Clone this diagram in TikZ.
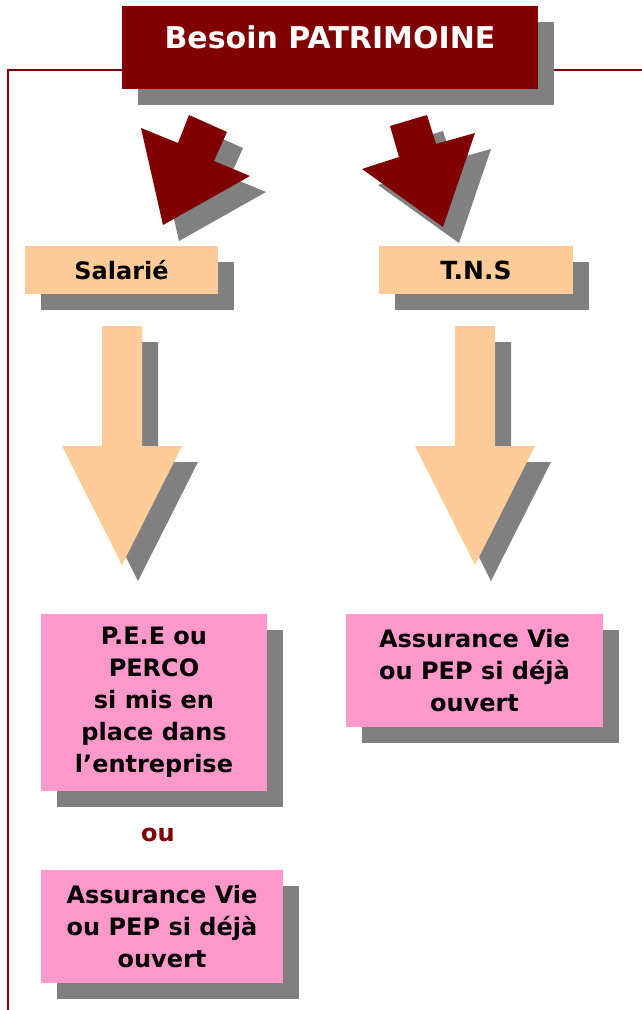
\documentclass[tikz,border=0pt]{standalone}
\usepackage{fontspec}
\setmainfont{DejaVu Sans}
\usetikzlibrary{shadows}
\definecolor{darkred}{HTML}{800000}
\definecolor{peachbox}{HTML}{FFCC99}
\definecolor{pinkbox}{HTML}{FF99CC}
\definecolor{shadegray}{HTML}{808080}
\begin{document}
\begin{tikzpicture}[x=1pt,y=-1pt,
  sh/.style={drop shadow={shadow xshift=16pt,shadow yshift=-16pt,fill=shadegray,opacity=1}},
  basebox/.style={sh,rectangle,inner sep=0pt,outer sep=0pt,align=center,font=\bfseries\fontsize{24}{32}\selectfont},
  titlebox/.style={basebox,fill=darkred,text=white},
  peachnode/.style={basebox,fill=peachbox,font=\bfseries\fontsize{24}{28}\selectfont},
  pinknode/.style={basebox,fill=pinkbox},
  frameline/.style={draw=darkred,line width=1.6pt},
  darrow/.style={fill=darkred},
  parrow/.style={fill=peachbox},
  ashadow/.style={fill=shadegray,shift={(16,16)}},
  outext/.style={text=darkred,font=\bfseries\fontsize{24}{28}\selectfont}
]
\useasboundingbox (0,0) rectangle (642,1010);
% frame
\draw[frameline] (642,70) -- (8,70) -- (8,1010);
% title
\node[titlebox,minimum width=416pt,minimum height=83pt,
  label={[text=white,font=\bfseries\fontsize{30}{34}\selectfont,yshift=10.5pt]center:Besoin PATRIMOINE}]
  (title) at (330,47.5) {};
% dark arrows
\path[ashadow] (163,225) -- (141,128) -- (178,143) -- (189,115) -- (227,132) -- (214,161) -- (250,176) -- cycle;
\path[darrow] (163,225) -- (141,128) -- (178,143) -- (189,115) -- (227,132) -- (214,161) -- (250,176) -- cycle;
\path[ashadow] (443,227) -- (362,169) -- (399,157) -- (390,126) -- (427,115) -- (436,144) -- (475,133) -- cycle;
\path[darrow] (443,227) -- (362,169) -- (399,157) -- (390,126) -- (427,115) -- (436,144) -- (475,133) -- cycle;
% second level
\node[peachnode,minimum width=193pt,minimum height=48pt] (sal) at (121.5,270) {Salarié};
\node[peachnode,minimum width=194pt,minimum height=48pt,font=\bfseries\fontsize{25}{28}\selectfont] (tns) at (476,270) {T.N.S};
% peach arrows
\path[ashadow] (102,326) -- (142,326) -- (142,446) -- (182,446) -- (122,565) -- (62,446) -- (102,446) -- cycle;
\path[parrow] (102,326) -- (142,326) -- (142,446) -- (182,446) -- (122,565) -- (62,446) -- (102,446) -- cycle;
\path[ashadow] (455,326) -- (495,326) -- (495,446) -- (535,446) -- (475,565) -- (415,446) -- (455,446) -- cycle;
\path[parrow] (455,326) -- (495,326) -- (495,446) -- (535,446) -- (475,565) -- (415,446) -- (455,446) -- cycle;
% pink boxes
\node[pinknode,minimum width=226pt,minimum height=177pt] (pee) at (154,702.5)
  {P.E.E ou\\PERCO\\si mis en\\place dans\\l’entreprise};
\node[pinknode,minimum width=257pt,minimum height=113pt] (avr) at (474.5,670.5)
  {Assurance Vie\\ou PEP si déjà\\ouvert};
\node[outext] (ou) at (158,835) {ou};
\node[pinknode,minimum width=242pt,minimum height=113pt] (avl) at (162,926.5)
  {Assurance Vie\\ou PEP si déjà\\ouvert};
\end{tikzpicture}
\end{document}
